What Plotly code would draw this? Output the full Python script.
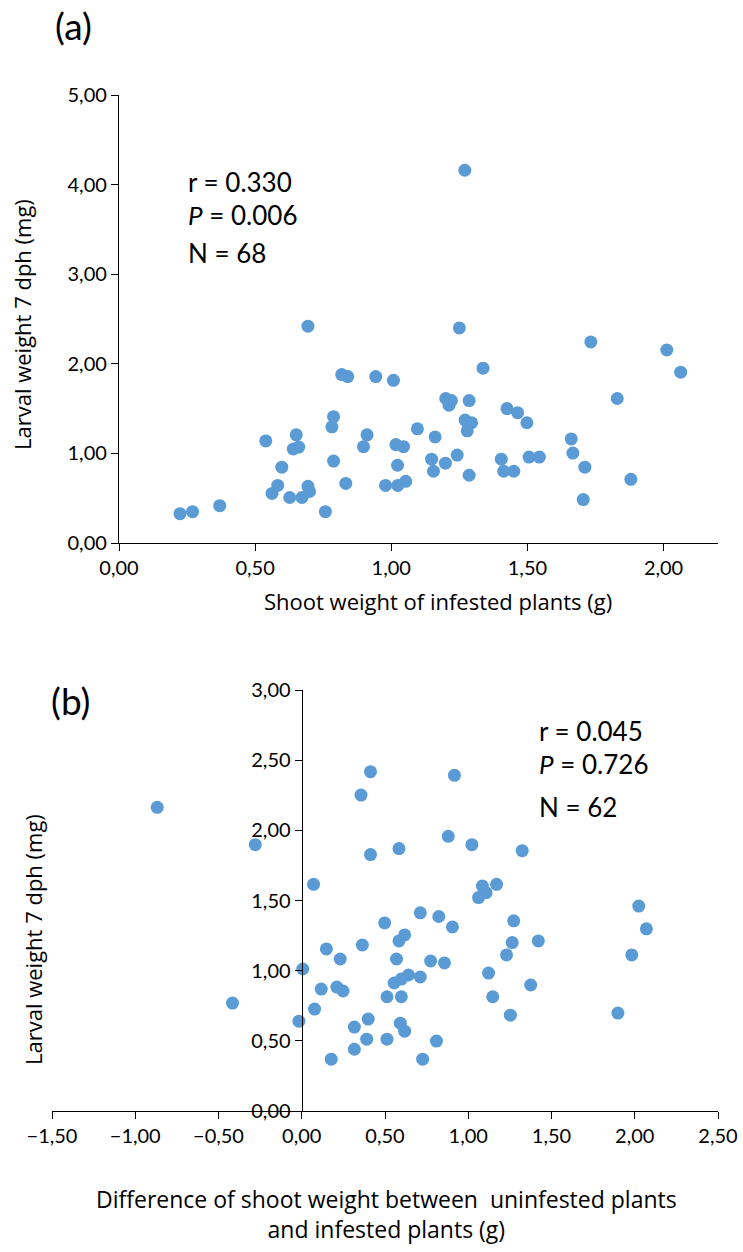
import plotly.graph_objects as go

# ---------------- data ----------------
# Panel (a): shoot weight of infested plants (g) vs larval weight 7 dph (mg)
shoot_a = [0.694, 1.250, 1.733, 2.012, 2.063, 1.337, 0.818, 0.840, 0.943, 1.008,
           1.200, 1.221, 1.212, 1.286, 1.830, 1.425, 1.464, 1.498, 1.271, 1.295,
           1.279, 0.788, 0.782, 1.096, 1.161, 0.911, 0.898, 0.651, 0.539, 0.660,
           0.640, 1.661, 1.667, 1.711, 1.880, 1.705, 1.017, 1.045, 1.023, 1.242,
           1.148, 1.199, 1.155, 1.286, 1.404, 1.506, 1.544, 1.413, 1.450, 0.788,
           0.598, 0.833, 0.979, 1.024, 1.053, 0.583, 0.562, 0.694, 0.700, 0.627,
           0.672, 0.758, 0.224, 0.270, 0.370, 1.270]
larva_a = [2.42, 2.40, 2.244, 2.154, 1.906, 1.951, 1.880, 1.857, 1.857, 1.816,
           1.613, 1.590, 1.538, 1.590, 1.613, 1.500, 1.455, 1.342, 1.372, 1.342,
           1.252, 1.410, 1.297, 1.274, 1.184, 1.207, 1.075, 1.207, 1.139, 1.071,
           1.049, 1.162, 1.004, 0.846, 0.711, 0.485, 1.098, 1.075, 0.868, 0.981,
           0.936, 0.891, 0.801, 0.756, 0.936, 0.959, 0.959, 0.801, 0.801, 0.914,
           0.846, 0.665, 0.643, 0.643, 0.688, 0.643, 0.553, 0.632, 0.575, 0.508,
           0.508, 0.350, 0.327, 0.350, 0.417, 4.16]

# Panel (b): difference of shoot weight (g) vs larval weight 7 dph (mg)
diff_b = [-0.868, -0.279, 0.413, 0.356, 0.917, 0.880, 1.022, 1.324, 0.413, 0.584,
          0.071, 1.085, 1.170, 1.107, 1.062,
          0.712, 0.498, 0.823, 0.905, 1.273, 2.070, 2.024, 0.618, 0.584, 1.264,
          1.421, 0.364, 0.148, 0.231, 0.569, 0.774, 0.857, 1.230, 1.982, 0.006,
          1.122, 0.641, 0.712, 0.598, 0.555, 1.375, 0.117, 0.211, 0.248, 0.512,
          0.598, 1.147, -0.416, 0.077, 1.253, 1.899, -0.017, 0.399, 0.316, 0.592,
          0.618, 0.390, 0.512, 0.809, 0.316, 0.177, 0.726]
larva_b = [2.164, 1.898, 2.418, 2.251, 2.392, 1.957, 1.898, 1.855, 1.827, 1.870,
           1.615, 1.603, 1.615, 1.556, 1.521,
           1.412, 1.340, 1.386, 1.312, 1.355, 1.298, 1.460, 1.255, 1.212, 1.200,
           1.212, 1.183, 1.155, 1.083, 1.083, 1.069, 1.055, 1.112, 1.112, 1.012,
           0.983, 0.969, 0.955, 0.940, 0.912, 0.898, 0.869, 0.883, 0.855, 0.814,
           0.814, 0.814, 0.769, 0.726, 0.683, 0.698, 0.640, 0.655, 0.598, 0.626,
           0.569, 0.512, 0.512, 0.498, 0.440, 0.369, 0.369]

ticks_a_x = [0, 0.5, 1.0, 1.5, 2.0]
ticks_a_y = [0, 1, 2, 3, 4, 5]
ticks_b_x = [-1.5, -1.0, -0.5, 0, 0.5, 1.0, 1.5, 2.0, 2.5]
ticks_b_y = [0, 0.5, 1.0, 1.5, 2.0, 2.5, 3.0]

stats_a = ["r = 0.330", "<i>P</i> = 0.006", "N = 68"]
stats_b = ["r = 0.045", "<i>P</i> = 0.726", "N = 62"]

# ---------------- layout helpers ----------------
W, H = 743, 1252
FONT = "Lato, 'Open Sans', sans-serif"
TFONT = "'Open Sans', Lato, sans-serif"
BLUE = "#5B9BD5"


def px(x):
    return x / W


def py(y):
    return 1 - y / H


fig = go.Figure()
marker = dict(color=BLUE, size=13, line=dict(width=0))
fig.add_trace(go.Scatter(x=shoot_a, y=larva_a, mode="markers", marker=marker,
                         xaxis="x", yaxis="y", showlegend=False))
fig.add_trace(go.Scatter(x=diff_b, y=larva_b, mode="markers", marker=marker,
                         xaxis="x2", yaxis="y2", showlegend=False))

axis_common = dict(showline=True, linecolor="black", linewidth=1.3,
                   ticks="outside", ticklen=7, tickwidth=1.3, tickcolor="black",
                   showgrid=False, zeroline=False, tickformat=".2f",
                   automargin=False,
                   tickfont=dict(family=FONT, size=20, color="black"))

fig.update_layout(
    template="none",
    width=W, height=H, autosize=False,
    margin=dict(l=0, r=0, t=0, b=0, pad=0, autoexpand=False),
    paper_bgcolor="white", plot_bgcolor="white",
    separators=", ",
    font=dict(family=FONT, color="black"),
    xaxis=dict(domain=[px(119), px(718)], range=[0, 2.2], tickvals=ticks_a_x,
               anchor="y", **axis_common),
    yaxis=dict(domain=[py(543), py(95)], range=[0, 5], tickvals=ticks_a_y,
               anchor="x", **axis_common),
    xaxis2=dict(domain=[px(52), px(718)], range=[-1.5, 2.5], tickvals=ticks_b_x,
                anchor="y2", **axis_common),
    yaxis2=dict(domain=[py(1111), py(690)], range=[0, 3], tickvals=ticks_b_y,
                anchor="free", position=px(301.75), **axis_common),
)

ann = []
# panel labels
ann.append(dict(text="(a)", x=px(53), y=py(25), xanchor="left", yanchor="middle",
                font=dict(size=37, family=FONT)))
ann.append(dict(text="(b)", x=px(49), y=py(700), xanchor="left", yanchor="middle",
                font=dict(size=37, family=FONT)))
# stats
for t, yy in zip(stats_a, [182, 215, 253]):
    ann.append(dict(text=t, x=px(186), y=py(yy), xanchor="left", yanchor="middle",
                    font=dict(size=26, family=FONT)))
for t, yy in zip(stats_b, [731, 764, 807]):
    ann.append(dict(text=t, x=px(537), y=py(yy), xanchor="left", yanchor="middle",
                    font=dict(size=26, family=FONT)))
# axis titles
ann.append(dict(text="Shoot weight of infested plants (g)", x=px(438), y=py(601),
                xanchor="center", yanchor="middle", font=dict(size=22, family=TFONT)))
ann.append(dict(text="Difference of shoot weight between  uninfested plants<br>and infested plants (g)",
                x=px(386), y=py(1214), xanchor="center", yanchor="middle",
                font=dict(size=23, family=TFONT)))
ann.append(dict(text="Larval weight 7 dph (mg)", x=px(22), y=py(325), textangle=-90,
                xanchor="center", yanchor="middle", font=dict(size=22, family=TFONT)))
ann.append(dict(text="Larval weight 7 dph (mg)", x=px(33), y=py(940), textangle=-90,
                xanchor="center", yanchor="middle", font=dict(size=22, family=TFONT)))

for a in ann:
    a.update(xref="paper", yref="paper", showarrow=False)
    a["font"].update(color="black")
fig.update_layout(annotations=ann)

fig.write_html("out.html", config={"displayModeBar": False},
               post_script="document.body.style.margin='0';")
